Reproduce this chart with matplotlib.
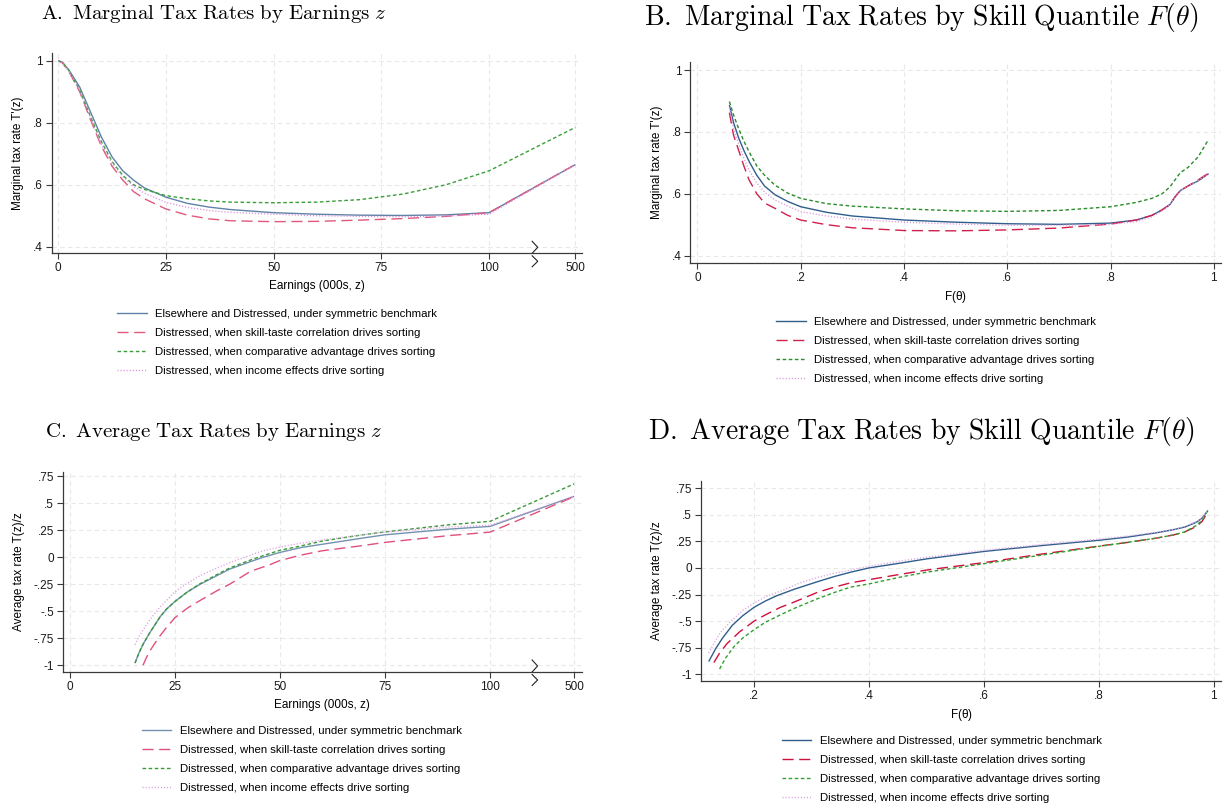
import numpy as np
import matplotlib.pyplot as plt
from matplotlib.lines import Line2D
import matplotlib.transforms as mtransforms

plt.rcParams['font.family'] = ['Liberation Sans', 'DejaVu Sans']
plt.rcParams['mathtext.fontset'] = 'cm'

# ---- data ----
labels = ["Elsewhere and Distressed, under symmetric benchmark",
          "Distressed, when skill-taste correlation drives sorting",
          "Distressed, when comparative advantage drives sorting",
          "Distressed, when income effects drive sorting"]

# Panel A: marginal tax rate by earnings (000s)
a_z = [0, 1, 2.5, 5, 7.5, 10, 12.5, 15, 17.5, 20, 25, 30, 35, 40, 50, 60, 70, 80, 90, 100, 500]
a_bench = [1.0, 0.995, 0.97, 0.915, 0.835, 0.755, 0.69, 0.645, 0.615, 0.59, 0.56, 0.54, 0.528, 0.52,
           0.51, 0.505, 0.502, 0.501, 0.503, 0.51, 0.665]
a_skill = [1.0, 0.993, 0.965, 0.9, 0.81, 0.725, 0.66, 0.615, 0.578, 0.555, 0.522, 0.502, 0.49, 0.484,
           0.481, 0.482, 0.486, 0.491, 0.498, 0.51, 0.665]
a_comp = [1.0, 0.994, 0.968, 0.905, 0.82, 0.74, 0.675, 0.63, 0.60, 0.585, 0.565, 0.555, 0.548, 0.544,
          0.542, 0.544, 0.552, 0.57, 0.60, 0.645, 0.785]
a_income = [1.0, 0.993, 0.966, 0.903, 0.815, 0.73, 0.67, 0.627, 0.595, 0.573, 0.543, 0.527, 0.517, 0.511,
            0.505, 0.50, 0.498, 0.497, 0.499, 0.505, 0.665]

# Panel B: marginal tax rate by skill quantile
b_f = [0.062, 0.07, 0.08, 0.09, 0.1, 0.115, 0.13, 0.15, 0.175, 0.2, 0.25, 0.3, 0.4, 0.5, 0.6, 0.7,
       0.8, 0.85, 0.88, 0.9, 0.915, 0.925, 0.935, 0.95, 0.97, 0.99]
b_bench = [0.887, 0.83, 0.78, 0.74, 0.705, 0.66, 0.625, 0.597, 0.575, 0.558, 0.54, 0.528, 0.515, 0.508,
           0.503, 0.501, 0.505, 0.515, 0.53, 0.548, 0.565, 0.59, 0.61, 0.625, 0.642, 0.665]
b_skill = [0.862, 0.79, 0.74, 0.69, 0.645, 0.6, 0.57, 0.553, 0.53, 0.515, 0.5, 0.49, 0.481, 0.48,
           0.483, 0.489, 0.502, 0.515, 0.53, 0.548, 0.565, 0.59, 0.61, 0.625, 0.645, 0.667]
b_comp = [0.898, 0.855, 0.81, 0.77, 0.736, 0.69, 0.66, 0.628, 0.602, 0.585, 0.568, 0.56, 0.551, 0.545,
          0.543, 0.546, 0.558, 0.572, 0.585, 0.6, 0.622, 0.645, 0.668, 0.685, 0.72, 0.776]
b_income = [0.88, 0.81, 0.76, 0.715, 0.677, 0.635, 0.605, 0.58, 0.56, 0.542, 0.528, 0.518, 0.508, 0.502,
            0.498, 0.498, 0.501, 0.51, 0.525, 0.545, 0.565, 0.59, 0.61, 0.625, 0.643, 0.665]

# Panel C: average tax rate by earnings (000s)
c_z = [15.5, 16.5, 17.5, 19, 20, 21.5, 23, 25, 28, 31, 35, 38, 43, 46, 50, 55, 60, 70, 75, 90, 100, 500]
c_bench = [-0.98, -0.88, -0.8, -0.70, -0.64, -0.55, -0.48, -0.41, -0.32, -0.25, -0.17, -0.11, -0.04,
           0.0, 0.045, 0.09, 0.12, 0.18, 0.208, 0.26, 0.286, 0.565]
c_comp = [-0.98, -0.88, -0.8, -0.70, -0.64, -0.55, -0.48, -0.41, -0.32, -0.245, -0.16, -0.10, -0.025,
          0.015, 0.065, 0.105, 0.15, 0.21, 0.235, 0.30, 0.333, 0.68]
c_income = [-0.81, -0.73, -0.67, -0.58, -0.53, -0.46, -0.40, -0.32, -0.24, -0.17, -0.10, -0.05, 0.02,
            0.06, 0.095, 0.13, 0.16, 0.21, 0.233, 0.28, 0.296, 0.565]
c_z_skill = [17.4, 18.2, 19, 20, 21.4, 23, 25, 28, 31, 35, 38, 43, 47.5, 50, 55, 60, 70, 75, 90, 100, 500]
c_skill = [-1.0, -0.93, -0.87, -0.81, -0.73, -0.65, -0.56, -0.47, -0.40, -0.31, -0.25, -0.13, -0.07,
           -0.03, 0.02, 0.06, 0.11, 0.138, 0.20, 0.233, 0.561]

# Panel D: average tax rate by skill quantile
d_f_bench = [0.121, 0.127, 0.133, 0.145, 0.162, 0.18, 0.2, 0.22, 0.24, 0.27, 0.31, 0.34, 0.368, 0.4,
             0.46, 0.5, 0.6, 0.7, 0.8, 0.85, 0.9, 0.93, 0.95, 0.97, 0.98, 0.99]
d_bench = [-0.88, -0.82, -0.76, -0.66, -0.54, -0.45, -0.37, -0.31, -0.26, -0.2, -0.13, -0.08, -0.04, 0.0,
           0.05, 0.085, 0.155, 0.21, 0.26, 0.29, 0.33, 0.36, 0.385, 0.43, 0.47, 0.54]
d_f_skill = [0.13, 0.14, 0.153, 0.175, 0.2, 0.22, 0.246, 0.27, 0.31, 0.34, 0.368, 0.4, 0.46, 0.5, 0.6,
             0.7, 0.8, 0.85, 0.9, 0.93, 0.95, 0.97, 0.98, 0.99]
d_skill = [-0.89, -0.8, -0.71, -0.6, -0.5, -0.44, -0.37, -0.32, -0.23, -0.18, -0.14, -0.11, -0.055,
           -0.02, 0.05, 0.13, 0.205, 0.24, 0.28, 0.31, 0.34, 0.39, 0.44, 0.53]
d_f_comp = [0.14, 0.15, 0.165, 0.18, 0.2, 0.22, 0.246, 0.27, 0.31, 0.34, 0.368, 0.4, 0.46, 0.5, 0.6,
            0.7, 0.8, 0.85, 0.9, 0.93, 0.95, 0.97, 0.98, 0.99]
d_comp = [-0.95, -0.85, -0.74, -0.66, -0.58, -0.51, -0.44, -0.38, -0.29, -0.23, -0.18, -0.15, -0.08,
          -0.04, 0.04, 0.12, 0.203, 0.24, 0.28, 0.31, 0.34, 0.40, 0.45, 0.55]
d_f_income = [0.121, 0.131, 0.141, 0.16, 0.18, 0.2, 0.22, 0.25, 0.28, 0.31, 0.34, 0.368, 0.4, 0.46,
              0.5, 0.6, 0.7, 0.8, 0.85, 0.9, 0.93, 0.95, 0.97, 0.98, 0.99]
d_income = [-0.80, -0.70, -0.61, -0.50, -0.40, -0.33, -0.27, -0.21, -0.14, -0.09, -0.05, -0.02, 0.016,
            0.07, 0.1, 0.166, 0.22, 0.27, 0.30, 0.335, 0.36, 0.39, 0.435, 0.47, 0.54]

earn_ticks = [0, 25, 50, 75, 100, 500]
earn_ticklabels = ['0', '25', '50', '75', '100', '500']

# ---- layout ----
W, H = 1230, 809
fig = plt.figure(figsize=(W / 100, H / 100), dpi=100)


def add_ax(l, t, r, b):
    return fig.add_axes([l / W, 1 - b / H, (r - l) / W, (b - t) / H])


def brk(z):
    z = np.asarray(z, dtype=float)
    return np.where(z <= 100, z, 100 + (z - 100) / 20.0)


def style(ax):
    for s in ['top', 'right']:
        ax.spines[s].set_visible(False)
    for s in ['left', 'bottom']:
        ax.spines[s].set_color('#3a3a3a')
        ax.spines[s].set_linewidth(0.9)
    ax.tick_params(length=4, width=0.8, color='#3a3a3a', labelsize=8.5, pad=2.5,
                   labelcolor='#1a1a1a')
    ax.grid(True, color='#e8e8e8', linestyle=(0, (4, 3)), linewidth=0.8)
    ax.set_axisbelow(True)


def break_mark(ax, x):
    # little zigzag across the x axis, as in the original
    trans = mtransforms.blended_transform_factory(ax.transData, ax.transAxes)
    h = ax.get_position().height * H
    d = 1.0 / h
    xs = [x, x + 1.3, x]
    ax.plot(xs, [12 * d, 6 * d, 0], transform=trans, color='#222222', lw=0.8, clip_on=False)
    ax.plot(xs, [-2.5 * d, -8 * d, -13.5 * d], transform=trans, color='#222222', lw=0.8, clip_on=False)


styles = ['-', (0, (8, 4)), (0, (2.6, 1.8)), (0, (0.8, 1.4))]


def draw(ax, series, colors):
    for (x, y), c, ls in zip(series, colors, styles):
        ax.plot(x, y, color=c, lw=1.0, linestyle=ls, solid_capstyle='butt')


def legend(ax, colors, x0, y0):
    handles = [Line2D([0], [0], color=c, lw=1.0, linestyle=ls) for c, ls in zip(colors, styles)]
    ax.legend(handles, labels, loc='upper left', bbox_to_anchor=(x0 / W, 1 - y0 / H),
              bbox_transform=fig.transFigure, frameon=False, fontsize=8.2, borderpad=0,
              borderaxespad=0, handlelength=2.6, handletextpad=0.75, labelspacing=0.8)


col_a = ['#5f82a6', '#e0587c', '#3a9e3a', '#d890dc']
col_b = ['#2f5e8c', '#d0204c', '#2b8c2b', '#d898da']
col_c = ['#7391b0', '#e0507a', '#3a9a3a', '#dca0e0']
col_d = ['#2f5e8c', '#d0103c', '#30a030', '#dba4df']

# Panel A
axA = add_ax(51.7, 53.3, 581.7, 253.3)
style(axA)
draw(axA, [(brk(a_z), a_bench), (brk(a_z), a_skill), (brk(a_z), a_comp), (brk(a_z), a_income)], col_a)
axA.set_xlim(-1.5, 121.5)
axA.set_ylim(0.379, 1.024)
axA.set_xticks(brk(earn_ticks))
axA.set_xticklabels(earn_ticklabels)
axA.set_yticks([0.4, 0.6, 0.8, 1.0])
axA.set_yticklabels(['.4', '.6', '.8', '1'])
axA.set_xlabel('Earnings (000s, z)', fontsize=8.5, labelpad=4)
axA.set_ylabel("Marginal tax rate T'(z)", fontsize=8.5, labelpad=6)
break_mark(axA, 110)
legend(axA, col_a, 117, 309)
fig.text(214 / W, 1 - 14 / H, r'$\mathrm{A.\ Marginal\ Tax\ Rates\ by\ Earnings}\ z$',
         ha='center', va='center', fontsize=15)

# Panel B
axB = add_ax(690.3, 62.3, 1220.9, 262.7)
style(axB)
draw(axB, [(b_f, b_bench), (b_f, b_skill), (b_f, b_comp), (b_f, b_income)], col_b)
axB.set_xlim(-0.0137, 1.0137)
axB.set_ylim(0.377, 1.025)
axB.set_xticks([0, 0.2, 0.4, 0.6, 0.8, 1.0])
axB.set_xticklabels(['0', '.2', '.4', '.6', '.8', '1'])
axB.set_yticks([0.4, 0.6, 0.8, 1.0])
axB.set_yticklabels(['.4', '.6', '.8', '1'])
axB.set_xlabel(r'F($\mathregular{\theta}$)', fontsize=8.5, labelpad=4)
axB.set_ylabel("Marginal tax rate T'(z)", fontsize=8.5, labelpad=6)
legend(axB, col_b, 776, 317)
fig.text(921 / W, 1 - 17 / H, r'$\mathrm{B.\ Marginal\ Tax\ Rates\ by\ Skill\ Quantile}\ F(\theta)$',
         ha='center', va='center', fontsize=20)

# Panel C
axC = add_ax(63, 472, 581.7, 672)
style(axC)
draw(axC, [(brk(c_z), c_bench), (brk(c_z_skill), c_skill), (brk(c_z), c_comp), (brk(c_z), c_income)], col_c)
axC.set_xlim(-1.64, 121.8)
axC.set_ylim(-1.063, 0.79)
axC.set_xticks(brk(earn_ticks))
axC.set_xticklabels(earn_ticklabels)
yt = [-1, -0.75, -0.5, -0.25, 0, 0.25, 0.5, 0.75]
ytl = ['-1', '-.75', '-.5', '-.25', '0', '.25', '.5', '.75']
axC.set_yticks(yt)
axC.set_yticklabels(ytl)
axC.set_xlabel('Earnings (000s, z)', fontsize=8.5, labelpad=4)
axC.set_ylabel('Average tax rate T(z)/z', fontsize=8.5, labelpad=6)
break_mark(axC, 110)
legend(axC, col_c, 141.6, 726)
fig.text(214 / W, 1 - 432 / H, r'$\mathrm{C.\ Average\ Tax\ Rates\ by\ Earnings}\ z$',
         ha='center', va='center', fontsize=15)

# Panel D
axD = add_ax(701, 480.7, 1220.9, 680.7)
style(axD)
draw(axD, [(d_f_bench, d_bench), (d_f_skill, d_skill), (d_f_comp, d_comp), (d_f_income, d_income)], col_d)
axD.set_xlim(0.1076, 1.0124)
axD.set_ylim(-1.06, 0.82)
axD.set_xticks([0.2, 0.4, 0.6, 0.8, 1.0])
axD.set_xticklabels(['.2', '.4', '.6', '.8', '1'])
axD.set_yticks(yt)
axD.set_yticklabels(ytl)
axD.set_xlabel(r'F($\mathregular{\theta}$)', fontsize=8.5, labelpad=4)
axD.set_ylabel('Average tax rate T(z)/z', fontsize=8.5, labelpad=6)
legend(axD, col_d, 781.7, 736)
fig.text(921 / W, 1 - 432 / H, r'$\mathrm{D.\ Average\ Tax\ Rates\ by\ Skill\ Quantile}\ F(\theta)$',
         ha='center', va='center', fontsize=20)

fig.savefig('out.png', dpi=100)
